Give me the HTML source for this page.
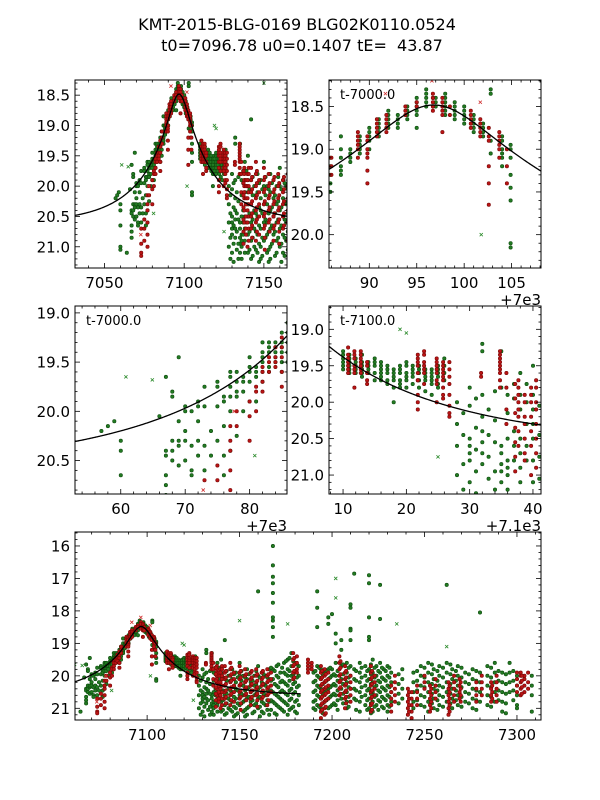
<!DOCTYPE html>
<html><head><meta charset="utf-8"><style>
html,body{margin:0;padding:0;background:#fff;}
svg{display:block;font-family:"DejaVu Sans","Liberation Sans",sans-serif;}
</style></head><body>
<svg id="fig" width="600" height="800" viewBox="0 0 600 800">
<text x="297" y="30" text-anchor="middle" font-size="16">KMT-2015-BLG-0169 BLG02K0110.0524</text>
<text x="302" y="51" text-anchor="middle" font-size="16" style="white-space:pre">t0=7096.78 u0=0.1407 tE=&#160; 43.87</text>
</svg>
<script>
// model parameters
const t0 = 7096.78, u0 = 0.1407, tE = 43.87, mBase = 20.62;
const modelRange = [7020, 7183];
// green dataset: [t, mags...]
const greenNights = [
[7057,20.2],[7058,20.15],[7059,20.1],[7060,20.3,20.65,20.4,21.0,21.05],[7064,21.1],[7066,20.05],
[7067,19.65,20.4,20.45,20.65,20.85,20.75],[7068,19.8,19.85,20.5,20.3,20.4],[7069,19.45,20.1,20.35,20.55,20.3],
[7070,19.95,20.0,20.2,20.3,20.5],[7071,20.0,20.35,20.6,20.65],[7072,19.9,19.95,20.45,20.3,20.1],
[7073,19.75,19.95,20.35,20.6],[7074,20.2,20.45],[7075,19.7,19.75,19.95,20.3],[7076,19.85,19.9,20.15,20.45,20.65],
[7077,19.6,19.65,19.75,19.85,20.0,20.4],[7078,19.6,19.7,19.8,19.85,20.25],[7079,19.65,19.7,19.8,20.0],
[7080,19.45,19.55,19.6,19.7,19.9],[7081,19.55,19.6,19.65,19.9],[7082,19.3,19.4,19.45,19.5,19.6,19.7],
[7083,19.3,19.35,19.4,19.55,19.6],[7084,19.3,19.35,19.4,19.45,19.5],[7085,19.2,19.3,19.35,19.4,19.5,19.6],
[7085.9,19.1,19.2,19.3,19.4,19.5],[7087,18.85,19.0,19.1,19.2,19.25,19.3],[7088,19.0,19.05,19.1,19.15],
[7089,18.9,18.95,19.0,19.05,18.85],[7090,18.75,18.8,18.85,18.9,19.0],[7091,18.65,18.7,18.75,18.8,18.85],
[7092,18.55,18.6,18.65,18.7,18.75],[7093,18.6,18.65,18.7,18.75],[7094,18.5,18.55,18.6,18.65],
[7095,18.4,18.45,18.5,18.55,18.6,18.75],[7096,18.3,18.35,18.4,18.45,18.5],[7097,18.4,18.45,18.5],
[7098,18.35,18.4,18.45,18.5,18.55,18.6],[7099,18.45,18.5,18.55,18.6,18.65],[7100,18.5,18.55,18.6,18.65,18.7],
[7101,18.6,18.65,18.7,18.75,18.8],[7102,18.7,18.75,18.8,18.85],[7102.8,18.3,18.35,18.9,19.05],
[7104,18.85,18.9,19.0,19.05,19.1,19.2],[7104.9,18.95,19.0,19.1,19.3,19.45,19.6,20.1,20.15],
[7110,19.3,19.35,19.4,19.45,19.5,19.55],[7111,19.35,19.4,19.45,19.5,19.55,19.6],[7112,19.4,19.45,19.5,19.55,19.6],
[7113,19.35,19.45,19.5,19.55,19.6,19.65],[7114,19.45,19.5,19.55,19.6],[7115,19.4,19.45,19.5,19.6,19.7],
[7116,19.45,19.5,19.55,19.6,19.65,19.7],[7117,19.5,19.55,19.6,19.7,19.75],[7118,19.55,19.6,19.65,19.7,19.8,20.0],
[7119,19.5,19.55,19.6,19.7,19.75,19.8],[7120,19.45,19.5,19.6,19.65,19.7,19.8],[7121,19.5,19.55,19.6,19.65,19.75],
[7122,19.5,19.55,19.6,19.7,19.8],[7123,19.55,19.6,19.65,19.7,19.85],[7124,19.55,19.6,19.65,19.7,19.75,19.9],
[7125,19.5,19.55,19.6,19.65,19.75,19.8],[7126,19.4,19.5,19.6,19.7],[7128,20.0,20.3,20.6,21.0],
[7130,19.8,20.05,20.5,20.6,20.7,20.8,21.1],[7132,19.2,19.3,19.9,20.2,20.4,20.55,20.7,20.85],
[7135,19.3,19.8,20.6,20.7,20.85,20.95,21.1],[7136,19.9,20.15,20.5,20.8,20.9,21.0,21.2],[7137,19.75,19.95,20.4,20.6,20.8],
[7138,19.6,19.9,20.1,20.5,20.7,20.9,21.1],[7139,19.75,20.0,20.3,20.6,20.8],[7140,19.5,19.9,20.1,20.3,20.5,20.8,21.1],
[7142,19.9,20.3,20.6,20.9,21.2,18.9],[7144,20.0,20.4,20.7,21.0],[7146,19.8,20.1,20.5,20.8,21.1],
[7148,19.9,20.2,20.4,20.7,21.0,21.2],[7150,19.6,20.0,20.3,20.6,20.9],[7152,20.0,20.3,20.6,20.8,21.1],
[7154,19.8,20.1,20.4,20.7,21.0,21.2],[7156,19.9,20.2,20.5,20.8],[7158,20.0,20.3,20.6,20.9,21.1],
[7160,19.7,20.0,20.4,20.7,21.0,17.4],[7162,19.9,20.2,20.5,20.8,21.1],[7164,20.0,20.3,20.6,20.9],
[7166,19.8,20.1,20.5,20.8,21.2],[7168,16.0,16.6,16.95,17.15,17.45,17.75,18.2,18.3,18.5,18.8,19.8,20.1,20.5,20.8],
[7170,19.7,20.0,20.3,20.6,20.9,21.2],[7172,19.9,20.2,20.5,20.7,21.0],[7174,19.6,19.9,20.2,20.5,20.8,21.1],
[7176,19.5,19.8,20.0,20.3,20.6,20.9,21.2],[7178,19.3,19.7,20.0,20.4,20.7,21.0],[7180,19.6,19.9,20.2,20.5,20.8,21.1],
[7182,19.7,20.0,20.3,20.6,20.9],[7190,19.9,20.2,20.5,20.8,21.0],[7192,17.4,17.9,18.5,19.7,20.0,20.3,20.6,20.9],
[7194,19.8,20.1,20.4,20.7,21.0],[7196,19.9,20.2,20.5,20.8],[7198,18.2,18.4,19.8,20.1,20.4,20.7,21.0],
[7200,18.1,19.8,20.0,20.3,20.6,20.9],[7202,18.7,19.0,19.6,20.0,20.3,20.6,20.9],[7205,18.9,19.2,19.7,20.1,20.4,20.7],
[7208,19.6,19.9,20.2,20.5,20.8,21.0],[7210,17.9,17.8,18.55,18.6,18.9,19.7,20.0,20.4],[7212,16.85,19.8,20.1,20.4,20.7],
[7215,19.6,19.9,20.2,20.5,20.8,21.1],[7218,19.7,20.0,20.3,20.6,20.9],[7220,16.9,17.15,18.2,18.8,18.9,19.8,20.1,20.4,20.7,21.0],
[7222,19.5,19.9,20.2,20.5,20.8,21.1],[7224,19.7,20.0,20.3,20.6,20.9],[7226,17.2,18.25,19.6,19.9,20.2,20.5,20.8],
[7228,19.8,20.1,20.4,20.7,21.0],[7230,19.7,20.0,20.3,20.6,20.9,21.1],[7232,19.9,20.2,20.5,20.8],
[7238,19.8,20.1,20.4,20.7],[7244,19.9,20.2,20.5,20.8,21.0],[7248,19.7,20.0,20.3,20.6,20.9],
[7252,19.6,19.9,20.2,20.5,20.8,21.1],[7255,19.8,20.1,20.4,20.7,21.0],[7258,19.7,20.0,20.3,20.6,20.9],
[7262,17.2,19.6,19.9,20.2,20.5,20.8],[7265,19.8,20.1,20.4,20.7,21.0],[7268,19.7,20.0,20.3,20.6,20.9],
[7272,19.9,20.2,20.5,20.8],[7276,19.8,20.1,20.4,20.7,21.0],[7280,18.05,19.9,20.2,20.5,20.8],
[7284,19.7,20.0,20.3,20.6,20.9],[7288,19.6,19.9,20.2,20.5,20.8],[7292,19.9,20.2,20.5,20.8,21.1],
[7296,19.6,19.9,20.2,20.5],[7300,20.0,20.3,20.6,20.9,21.0],[7308,20.0,20.3,20.6,21.1],
[7129,20.15,20.45,20.85,21.2],[7131,19.95,20.35,20.65,20.95,21.25],[7133,20.1,20.45,20.75,21.05],[7134,19.85,20.25,20.55,20.95,21.2],
[7141,20.05,20.45,20.75,21.05],[7143,19.85,20.15,20.55,20.85,21.15],[7145,20.15,20.45,20.75,21.05],[7147,19.95,20.35,20.65,20.95,21.25],
[7149,20.05,20.45,20.85,21.15],[7151,19.85,20.15,20.55,20.85],[7153,20.05,20.45,20.75,21.05,21.25],[7155,19.95,20.35,20.65,20.95],
[7157,20.15,20.45,20.75,21.15],[7159,19.85,20.25,20.55,20.85],[7161,20.05,20.35,20.65,20.95,21.25],[7163,19.95,20.25,20.55,20.85,21.15],
[7165,20.05,20.45,20.75,21.05],[7167,19.75,20.15,20.45,20.75,21.05],[7169,19.85,20.25,20.55,20.85,21.15],[7171,19.65,20.05,20.35,20.65,20.95],
[7173,19.75,20.15,20.45,20.75,21.05],[7175,19.55,19.95,20.25,20.55,20.85],[7177,19.45,19.85,20.15,20.45,20.75,21.05],[7179,19.55,19.95,20.25,20.55,20.95],
[7181,19.65,20.05,20.35,20.75,21.15],[7191,19.85,20.15,20.45,20.75,21.05],[7193,19.75,20.05,20.35,20.65,20.95],[7195,19.95,20.25,20.55,20.85,21.15],
[7197,19.85,20.15,20.45,20.75],[7199,19.75,20.05,20.35,20.65,20.95],[7201,19.95,20.25,20.55,20.85],[7203,19.85,20.15,20.45,20.75,21.05],
[7206,19.65,19.95,20.25,20.55,20.85],[7209,19.75,20.05,20.35,20.65,20.95],[7213,19.85,20.15,20.45,20.75,21.05],[7216,19.75,20.05,20.35,20.65],
[7219,19.85,20.15,20.45,20.75,21.05],[7221,19.65,19.95,20.25,20.55,20.85,21.15],[7223,19.75,20.05,20.35,20.65,20.95],[7225,19.85,20.15,20.45,20.75,21.05],
[7227,19.75,20.05,20.35,20.65,20.95],[7229,19.85,20.15,20.45,20.75],[7231,19.75,20.05,20.35,20.65,20.95],[7236,19.95,20.25,20.55,20.85],
[7246,19.85,20.15,20.45,20.75],[7250,19.75,20.05,20.35,20.65,20.95],[7254,19.65,19.95,20.25,20.55,20.85],[7257,19.85,20.15,20.45,20.75,21.05],
[7260,19.75,20.05,20.35,20.65,20.95],[7264,19.65,19.95,20.25,20.55,20.85],[7267,19.85,20.15,20.45,20.75],[7270,19.75,20.05,20.35,20.65,20.95],
[7274,19.95,20.25,20.55,20.85],[7278,19.85,20.15,20.45,20.75,21.05],[7286,19.75,20.05,20.35,20.65,20.95],[7290,19.85,20.15,20.45,20.75],
[7294,19.95,20.25,20.55,20.85,21.15],[7298,19.85,20.15,20.45,20.75]
];
const redNights = [
[7073,20.7,20.95,21.1,21.15],[7075,20.55,20.7,20.9],[7077,20.15,20.3,20.4,20.6,20.8,21.0],[7078,20.0,20.15],
[7080,19.9,20.05,20.3],[7081,19.75,19.8,20.0],[7082,19.55,19.6,19.7,19.8],[7083,19.45,19.5,19.6],
[7084,19.35,19.45,19.5,19.55],[7085,19.25,19.35,19.45,19.6,19.75],[7086,19.1,19.2,19.3],
[7088.8,18.8,18.85,18.9,18.95,19.0,19.1],[7089.8,18.85,18.9,19.0,19.05,19.1,19.25,19.4],
[7090.8,18.65,18.7,18.75,18.8,18.85],[7091.8,18.6,18.65,18.7,18.75,18.8],[7093.8,18.5,18.55,18.6],
[7095,18.45,18.5],[7096.7,18.35,18.4,18.45,18.5,18.55,18.4],[7097.7,18.4,18.45,18.5,18.55,18.6,18.8],
[7098.5,18.5,18.6],[7100.7,18.55,18.6,18.65,18.7,18.75],[7101.7,18.65,18.7,18.75,18.8,18.85],
[7102.6,18.75,18.85,18.9,19.2,19.4,19.65],[7103.7,18.8,18.85,18.9,18.95,19.0,19.1],[7104.5,19.0,19.2,19.4],
[7110.8,19.25,19.35,19.4,19.45,19.5,19.55,19.6],[7111.8,19.3,19.35,19.4,19.5,19.55,19.6,19.8],
[7112.8,19.3,19.35,19.4,19.45,19.5,19.55,19.6],[7113.8,19.45,19.5,19.6,19.7,19.75],
[7121.8,19.35,19.4,19.45,19.5,19.6,19.7,19.9,19.7,20.0,20.1],[7122.8,19.3,19.35,19.45,19.5,19.55,19.6,19.75],
[7124.8,19.4,19.45,19.5,19.55,19.6,19.7,19.75,20.0],[7125.8,19.45,19.5,19.55,19.6,19.65,19.7,19.8,19.9,19.95],
[7126.8,19.45,19.55,19.65,19.75,19.9,20.05,20.15,20.2],[7131.8,19.6,19.65],
[7134.8,19.3,19.35,19.4,19.45,19.5,19.55,19.6,19.7,19.8],[7135.8,19.6,19.8,20.1,20.3],
[7137.7,19.7,19.8,19.9,20.0,20.1,20.2,20.4,20.6],[7138.7,19.9,20.0,20.2,20.3,20.5,20.7,20.8],
[7139.7,19.8,19.9,20.0,20.2,20.4,20.6,21.0],[7140.5,19.7,19.8,20.0,20.1,20.3,20.5,20.7,20.9],
[7142,19.7,19.9,20.1,20.3,20.5,20.7],[7145,19.6,19.8,20.0,20.2,20.4,20.6,20.9],[7147,19.9,20.1,20.3,20.5,20.8],
[7150,19.7,19.9,20.1,20.3,20.5,20.7],[7153,19.8,20.0,20.2,20.4,20.6],[7156,19.9,20.1,20.3,20.5,20.7,20.9],
[7159,19.8,20.0,20.2,20.4,20.6],[7162,19.9,20.1,20.3,20.5,20.7],[7165,19.8,20.0,20.2,20.4,20.6,20.9],
[7167,19.9,20.1,20.3,20.5],[7179,19.3,19.5,19.7,19.9,20.1],[7181,19.4,19.6,19.8,19.9],
[7187,19.5,19.6,19.7,19.8,19.9],[7189,19.6,19.7,19.8],[7194,19.7,19.9,20.1,20.3,20.5,20.7,20.9,21.1,21.3],
[7196,19.8,20.0,20.2,20.4,20.6,20.8,21.0,21.2],[7198,19.9,20.1,20.3,20.5,20.7],
[7204,19.4,19.6,19.8,20.0,20.2,20.4,20.6],[7207,19.7,19.9,20.1,20.3,20.5,20.7,21.0],[7210,20.0,20.2,20.4,20.6,20.8],
[7221,19.7,19.9,20.1,20.3,20.5,20.7,20.9,21.1],[7223,20.0,20.2,20.4,20.6],[7232,20.3,20.5,20.7,20.9,21.1],
[7234,20.0,20.2,20.4,20.6,20.8],[7241,20.4,20.6,20.8,21.0,21.2],[7243,20.5,20.7,20.9,21.1,21.3],
[7246,20.3,20.5,20.7,20.9],[7250,20.0,20.2,20.4],[7253,20.3,20.5,20.7,20.9,21.1],[7256,20.1,20.3,20.5,20.7],
[7263,20.2,20.4,20.6,20.8,21.0,21.2],[7266,20.0,20.2,20.4,20.6,20.8],[7269,20.1,20.3,20.5,20.7],
[7278,20.2,20.4,20.6,20.8],[7281,20.0,20.2,20.4,20.6],[7286,20.2,20.4,20.6,20.8],[7289,20.0,20.2,20.4,20.6,20.8],
[7300,19.9,20.1,20.3,20.5],[7302,19.9,20.0,20.2,20.4,20.6],[7304,20.0,20.1,20.3,20.5],[7306,19.9,20.2,20.4],
[7137.2,19.75,19.95,20.15,20.35,20.55,20.75,20.95],[7142.6,19.85,20.05,20.25,20.45,20.65,20.85],[7145.6,19.75,19.95,20.15,20.35,20.55,20.75],
[7150.6,19.85,20.05,20.25,20.45,20.65,20.85,21.05],[7153.6,19.95,20.15,20.35,20.55,20.75],[7156.6,19.85,20.05,20.25,20.45,20.65],
[7159.6,19.95,20.15,20.35,20.55,20.75,20.95],[7162.6,19.85,20.05,20.25,20.45,20.65],[7165.6,19.95,20.15,20.35,20.55,20.75],
[7179.6,19.45,19.65,19.85,20.05],[7194.6,19.85,20.05,20.25,20.45,20.65,20.85,21.05],[7196.6,19.95,20.15,20.35,20.55,20.75,20.95,21.15],
[7204.6,19.55,19.75,19.95,20.15,20.35,20.55],[7207.6,19.85,20.05,20.25,20.45,20.65,20.85],[7221.6,19.85,20.05,20.25,20.45,20.65,20.85,21.05],
[7241.6,20.5,20.7,20.9,21.1],[7253.6,20.4,20.6,20.8,21.0],[7263.6,20.3,20.5,20.7,20.9,21.1],[7269.6,20.2,20.4,20.6,20.8],
[7286.6,20.3,20.5,20.7],[7302.6,20.0,20.15,20.35,20.55]
];
const greenCross = [[7060.8,19.65],[7064.9,19.68],[7080.8,20.45],[7101.8,20.0],[7119,19.0],[7120,19.05],[7125,20.75],[7150,18.3],[7176,18.4],[7202,17.0],[7202,17.6],[7235,18.4],[7262,19.1]];
const redCross = [[7091.7,18.35],[7096.6,18.2],[7101.7,18.45],[7072.8,20.8],[7077.6,20.0]];

const panels = [
 {name:'full-event', x0:75,x1:287,y0:80,y1:268, xl:[7031.5,7164.5], yl:[18.25,21.35], xt:[7050,7100,7150], xm:10, yt:[18.5,19.0,19.5,20.0,20.5,21.0], ym:0.1, xfmt:v=>v, yfmt:v=>v.toFixed(1)},
 {name:'peak-zoom', x0:329,x1:541,y0:80,y1:268, xl:[7085.75,7108.1], yl:[18.19,20.39], xt:[7090,7095,7100,7105], xm:1, yt:[18.5,19.0,19.5,20.0], ym:0.1, xfmt:v=>v-7000, yfmt:v=>v.toFixed(1), inset:'t-7000.0', off:'+7e3'},
 {name:'rising-zoom', x0:75,x1:287,y0:306,y1:494, xl:[7052.9,7085.8], yl:[18.93,20.84], xt:[7060,7070,7080], xm:2, yt:[19.0,19.5,20.0,20.5], ym:0.1, xfmt:v=>v-7000, yfmt:v=>v.toFixed(1), inset:'t-7000.0', off:'+7e3'},
 {name:'falling-zoom', x0:329,x1:541,y0:306,y1:494, xl:[7107.78,7141.27], yl:[18.68,21.26], xt:[7110,7120,7130,7140], xm:2, yt:[19.0,19.5,20.0,20.5,21.0], ym:0.1, xfmt:v=>v-7100, yfmt:v=>v.toFixed(1), inset:'t-7100.0', off:'+7.1e3'},
 {name:'season-overview', x0:75,x1:541,y0:532,y1:720, xl:[7061,7313], yl:[15.57,21.36], xt:[7100,7150,7200,7250,7300], xm:10, yt:[16,17,18,19,20,21], ym:0.2, xfmt:v=>v, yfmt:v=>String(v)}
];
const NS='http://www.w3.org/2000/svg';
const svg=document.getElementById('fig');
function mk(tag,attrs,parent){const e=document.createElementNS(NS,tag);for(const k in attrs)e.setAttribute(k,attrs[k]);(parent||svg).appendChild(e);return e;}
function modelMag(t){const tau=(t-t0)/tE;const u=Math.sqrt(u0*u0+tau*tau);const A=(u*u+2)/(u*Math.sqrt(u*u+4));return mBase-2.5*Math.log10(A);}

panels.forEach((p,pi)=>{
 const sx=t=>p.x0+(t-p.xl[0])/(p.xl[1]-p.xl[0])*(p.x1-p.x0);
 const sy=m=>p.y0+(m-p.yl[0])/(p.yl[1]-p.yl[0])*(p.y1-p.y0);
 const g=mk('g',{});
 
 
 const cp=mk('clipPath',{id:'clip'+pi},g);
 mk('rect',{x:p.x0,y:p.y0,width:p.x1-p.x0,height:p.y1-p.y0},cp);
 const plot=mk('g',{'clip-path':'url(#clip'+pi+')'},g);
 
 
 function drawSet(nights,fill,stroke,nm){
  const sg=mk('g',{fill:fill,stroke:stroke,'stroke-width':0.6},plot);
  
  
  nights.forEach(n=>{const t=n[0];const x=sx(t);if(x<p.x0-5||x>p.x1+5)return;
   for(let i=1;i<n.length;i++){mk('circle',{cx:x.toFixed(1),cy:sy(n[i]).toFixed(1),r:1.7},sg);}
  });
 }
 function drawCross(pts,col,nm){
  const sg=mk('g',{stroke:col,'stroke-width':0.8},plot);
  
  
  pts.forEach(q=>{const x=sx(q[0]),y=sy(q[1]);mk('path',{d:`M${x-1.6},${y-1.6}L${x+1.6},${y+1.6}M${x-1.6},${y+1.6}L${x+1.6},${y-1.6}`},sg);});
 }
 drawSet(greenNights,'#227a22','#0c4a0c','green-points');
 drawSet(redNights,'#b81414','#7a0606','red-points');
 drawCross(greenCross,'#2a8a2a','green-outliers');
 drawCross(redCross,'#d03030','red-outliers');
 const a=Math.max(p.xl[0],modelRange[0]),b=Math.min(p.xl[1],modelRange[1]);
 let d='';for(let i=0;i<=300;i++){const t=a+(b-a)*i/300;d+=(i?'L':'M')+sx(t).toFixed(2)+','+sy(modelMag(t)).toFixed(2);}
 const ml=mk('path',{d:d,fill:'none',stroke:'#000','stroke-width':1.3},plot);
 
 
 const fr=mk('rect',{x:p.x0,y:p.y0,width:p.x1-p.x0,height:p.y1-p.y0,fill:'none',stroke:'#000','stroke-width':1},g);
 
 
 const tg=mk('g',{stroke:'#000','stroke-width':0.8},g);
 
 
 const xs=Math.ceil(p.xl[0]/p.xm);
 for(let k=xs;k*p.xm<=p.xl[1];k++){const v=k*p.xm;const x=sx(v);const major=p.xt.some(q=>Math.abs(q-v)<1e-6);const L=major?5:2.5;
  mk('line',{x1:x,y1:p.y1,x2:x,y2:p.y1-L},tg);mk('line',{x1:x,y1:p.y0,x2:x,y2:p.y0+L},tg);}
 const ys=Math.ceil(p.yl[0]/p.ym-1e-6);
 for(let k=ys;k*p.ym<=p.yl[1]+1e-9;k++){const v=k*p.ym;const y=sy(v);const major=p.yt.some(q=>Math.abs(q-v)<1e-6);const L=major?5:2.5;
  mk('line',{x1:p.x0,y1:y,x2:p.x0+L,y2:y},tg);mk('line',{x1:p.x1,y1:y,x2:p.x1-L,y2:y},tg);}
 p.xt.forEach(v=>{const t=mk('text',{x:sx(v),y:p.y1+20,'text-anchor':'middle','font-size':15},g);t.textContent=p.xfmt(v);
  
  });
 p.yt.forEach(v=>{const t=mk('text',{x:p.x0-5,y:sy(v)+5.5,'text-anchor':'end','font-size':15},g);t.textContent=p.yfmt(v);
  
  });
 if(p.inset){const t=mk('text',{x:p.x0+11,y:p.y0+19,'font-size':13},g);t.textContent=p.inset;
  
  }
 if(p.off){const t=mk('text',{x:p.x1,y:p.y1+37,'text-anchor':'end','font-size':15},g);t.textContent=p.off;
  
  }
});
</script>
</body></html>
